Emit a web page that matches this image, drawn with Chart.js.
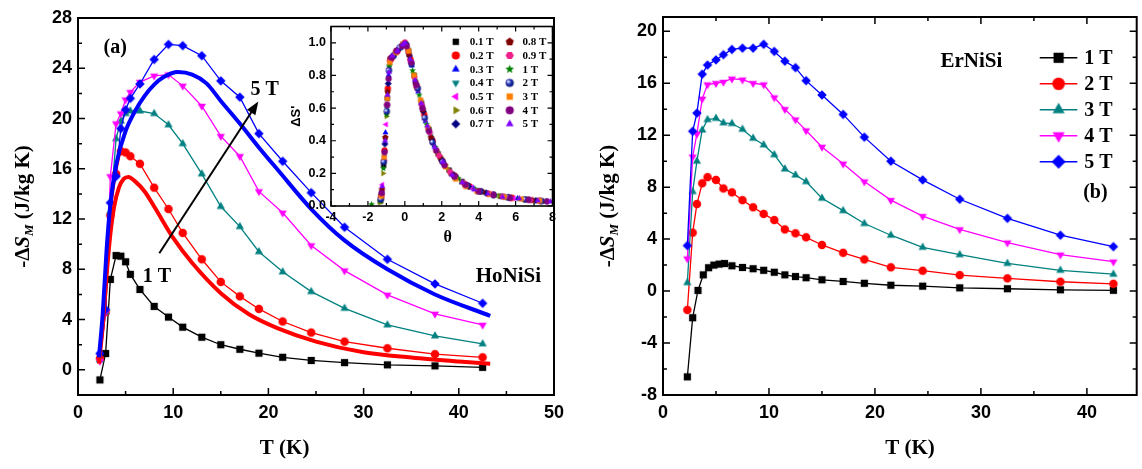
<!DOCTYPE html>
<html>
<head>
<meta charset="utf-8">
<script src="https://cdn.jsdelivr.net/npm/chart.js@4.4.1/dist/chart.umd.min.js"></script>
<style>
  html, body { margin: 0; padding: 0; background: #fff; }
  #wrap { position: relative; width: 1142px; height: 469px; overflow: hidden; }
  canvas { position: absolute; }
</style>
</head>
<body>
<div id="wrap">
  <canvas id="ho" width="580" height="469" style="left:0;top:0;width:580px;height:469px"></canvas>
  <canvas id="er" width="562" height="469" style="left:580px;top:0;width:562px;height:469px"></canvas>
  <canvas id="ins" width="275" height="236" style="left:285px;top:14px;width:275px;height:236px"></canvas>
</div>
<script>
// ---- panel (a) HoNiSi, -dS_M vs T ----
const hoT  = [2.3, 2.9, 3.4, 4.0, 4.5, 5.0, 5.5, 6.5, 8, 9.5, 11, 13, 15, 17, 19, 21.5, 24.5, 28, 32.5, 37.5, 42.5];
const ho1T = [-0.8, 1.3, 7.2, 9.1, 9.05, 8.6, 7.6, 6.4, 5.05, 4.2, 3.4, 2.6, 2.0, 1.64, 1.33, 1.0, 0.75, 0.58, 0.4, 0.32, 0.2];
const ho2T = [0.9, 4.6, 12.3, 15.6, 17.4, 17.3, 17.0, 16.4, 14.5, 12.8, 10.9, 8.8, 7.0, 5.85, 4.85, 3.85, 2.97, 2.25, 1.72, 1.25, 1.0];
const ho3T = [0.8, 4.6, 12.6, 18.4, 19.8, 20.4, 20.6, 20.6, 20.4, 19.5, 18.0, 15.6, 13.0, 11.4, 9.4, 7.8, 6.23, 4.9, 3.58, 2.7, 2.07];
const ho4T = [0.7, 4.6, 15.4, 19.6, 20.4, 21.5, 22.1, 22.9, 23.4, 23.5, 22.6, 21.0, 18.6, 17.0, 14.2, 12.5, 9.9, 7.9, 5.97, 4.46, 3.58];
const ho5T = [1.3, 4.8, 13.3, 15.4, 19.2, 20.7, 21.6, 22.75, 24.7, 25.9, 25.8, 25.0, 23.0, 21.7, 18.8, 16.6, 14.1, 11.35, 8.8, 6.84, 5.3];
// fitted curves (thick lines)
const fitRedT  = [2.2, 2.6, 3.0, 3.4, 3.8, 4.3, 4.8, 5.3, 6.0, 7.0, 8, 10, 12, 15, 18, 21, 25, 30, 35, 40, 43.3];
const fitRed   = [0.5, 3.5, 7.5, 10.8, 13.0, 14.5, 15.2, 15.35, 15.0, 14.2, 13.0, 10.5, 8.5, 6.1, 4.4, 3.3, 2.25, 1.4, 0.98, 0.66, 0.48];
const fitBlueT = [2.2, 2.6, 3.0, 3.4, 4.0, 5.0, 6.0, 7.0, 8.0, 9.0, 10.5, 12, 13.5, 15, 17, 19, 21, 24.5, 28, 32.5, 37.5, 43.3];
const fitBlue  = [1.0, 4.5, 9.5, 13.2, 16.3, 19.0, 20.6, 21.8, 22.7, 23.3, 23.7, 23.5, 22.8, 21.4, 19.6, 17.7, 15.9, 12.8, 10.3, 8.0, 6.0, 4.3];
const hoXTicks = [0, 10, 20, 30, 40, 50];
const hoYTicks = [0, 4, 8, 12, 16, 20, 24, 28];

// ---- panel (b) ErNiSi ----
const erT1 = [2.3, 2.8, 3.3, 3.8, 4.3, 4.8, 5.3, 5.8, 6.5, 7.5, 8.5, 9.5, 10.5, 11.5, 12.5, 13.5, 15, 17, 19, 21.5, 24.5, 28, 32.5, 37.5, 42.5];
const er1T = [-6.6, -2.05, 0.05, 1.25, 1.8, 2.0, 2.08, 2.12, 1.95, 1.82, 1.72, 1.6, 1.45, 1.25, 1.12, 1.03, 0.87, 0.74, 0.6, 0.45, 0.38, 0.25, 0.18, 0.1, 0.06];
const erT  = [2.3, 2.8, 3.2, 3.7, 4.2, 5.0, 5.7, 6.5, 7.5, 8.5, 9.5, 10.5, 11.5, 12.5, 13.5, 15, 17, 19, 21.5, 24.5, 28, 32.5, 37.5, 42.5];
const er2T = [-1.45, 4.5, 6.7, 8.3, 8.77, 8.56, 7.9, 7.6, 7.0, 6.45, 5.94, 5.47, 4.75, 4.45, 4.14, 3.55, 2.95, 2.44, 1.83, 1.57, 1.23, 0.98, 0.72, 0.56];
const er3T = [0.65, 7.66, 10.0, 12.4, 13.2, 13.3, 12.95, 12.9, 12.46, 11.77, 11.26, 10.5, 9.4, 8.94, 8.43, 7.15, 6.19, 5.2, 4.3, 3.37, 2.8, 2.13, 1.6, 1.3];
const er4T = [2.5, 10.35, 12.1, 14.8, 15.9, 16.0, 16.1, 16.35, 16.27, 16.0, 15.9, 14.9, 14.0, 13.2, 12.36, 11.1, 9.8, 8.43, 7.0, 5.77, 4.75, 3.73, 2.8, 2.26];
const er5T = [3.5, 12.3, 13.7, 16.7, 17.4, 17.8, 18.2, 18.6, 18.7, 18.7, 19.0, 18.45, 17.7, 17.2, 16.2, 15.1, 13.6, 11.85, 10.0, 8.56, 7.07, 5.6, 4.3, 3.42];
const erXTicks = [0, 10, 20, 30, 40];
const erYTicks = [-8, -4, 0, 4, 8, 12, 16, 20];
const erLabels = ['1 T', '2 T', '3 T', '4 T', '5 T'];

// ---- inset: normalised dS' vs theta ----
const th01 = [-1.32, -1.15, -0.95, -0.8, -0.45, -0.1, 0.2, 0.5, 0.9, 1.3, 1.8, 2.4, 3.1, 4.0, 5.2, 6.6];
const ds01 = [0.03, 0.25, 0.66, 0.9, 0.95, 0.99, 0.95, 0.8, 0.63, 0.47, 0.32, 0.22, 0.15, 0.09, 0.06, 0.04];
const th02 = [-1.28, -1.1, -0.92, -0.75, -0.4, 0, 0.3, 0.65, 1.05, 1.5, 2.0, 2.7, 3.5, 4.5, 5.8, 7.3];
const ds02 = [0.06, 0.34, 0.72, 0.9, 0.95, 1.0, 0.9, 0.73, 0.56, 0.4, 0.28, 0.185, 0.12, 0.076, 0.05, 0.032];
const th03 = [-1.25, -1.05, -0.88, -0.6, -0.25, 0.05, 0.38, 0.72, 1.12, 1.6, 2.15, 2.85, 3.7, 4.8, 6.1, 7.7];
const ds03 = [0.09, 0.45, 0.8, 0.92, 0.97, 0.99, 0.86, 0.7, 0.52, 0.37, 0.26, 0.17, 0.11, 0.07, 0.046, 0.028];
const th04 = [-1.3, -1.12, -0.97, -0.85, -0.5, -0.15, 0.15, 0.55, 0.95, 1.4, 1.95, 2.55, 3.3, 4.3, 5.5, 7.0];
const ds04 = [0.04, 0.3, 0.6, 0.85, 0.94, 0.98, 0.96, 0.77, 0.6, 0.43, 0.29, 0.2, 0.13, 0.085, 0.055, 0.035];
const th05 = [-1.22, -1.02, -0.86, -0.65, -0.3, 0.02, 0.33, 0.7, 1.1, 1.55, 2.1, 2.8, 3.6, 4.6, 5.9, 7.4];
const ds05 = [0.13, 0.5, 0.84, 0.92, 0.97, 1.0, 0.88, 0.71, 0.53, 0.38, 0.27, 0.175, 0.115, 0.075, 0.048, 0.03];
const th06 = [-1.35, -1.18, -1.0, -0.83, -0.55, -0.2, 0.12, 0.48, 0.85, 1.25, 1.75, 2.35, 3.05, 4.0, 5.1, 6.5];
const ds06 = [0.02, 0.2, 0.55, 0.87, 0.93, 0.98, 0.97, 0.81, 0.65, 0.48, 0.33, 0.225, 0.15, 0.09, 0.062, 0.04];
const th07 = [-1.27, -1.08, -0.9, -0.7, -0.35, -0.05, 0.25, 0.6, 1.0, 1.45, 2.0, 2.65, 3.45, 4.4, 5.6, 7.1];
const ds07 = [0.07, 0.38, 0.75, 0.91, 0.96, 0.99, 0.92, 0.75, 0.58, 0.41, 0.28, 0.19, 0.12, 0.08, 0.053, 0.034];
const th08 = [-1.24, -1.06, -0.93, -0.78, -0.42, -0.08, 0.22, 0.58, 0.98, 1.42, 1.9, 2.5, 3.25, 4.2, 5.4, 6.9];
const ds08 = [0.1, 0.42, 0.7, 0.9, 0.95, 0.99, 0.93, 0.76, 0.59, 0.42, 0.3, 0.2, 0.13, 0.088, 0.056, 0.036];
const th09 = [-1.29, -1.13, -0.96, -0.81, -0.48, -0.12, 0.18, 0.52, 0.92, 1.35, 1.85, 2.45, 3.2, 4.1, 5.3, 6.8];
const ds09 = [0.05, 0.28, 0.62, 0.89, 0.94, 0.985, 0.95, 0.79, 0.62, 0.45, 0.31, 0.21, 0.14, 0.09, 0.058, 0.037];
const th1 = [-1.8, -1.33, -1.16, -0.99, -0.84, -0.58, -0.22, 0.08, 0.42, 0.78, 1.18, 1.65, 2.2, 2.9, 3.8, 4.9, 6.2, 7.6];
const ds1 = [0.01, 0.03, 0.23, 0.56, 0.86, 0.93, 0.975, 0.99, 0.83, 0.68, 0.5, 0.36, 0.25, 0.17, 0.105, 0.066, 0.045, 0.028];
const th2 = [-1.3, -1.14, -0.98, -0.86, -0.62, -0.28, 0.06, 0.36, 0.7, 1.08, 1.5, 2.05, 2.7, 3.4, 4.1, 4.8, 5.6, 6.5, 7.4];
const ds2 = [0.04, 0.27, 0.58, 0.83, 0.92, 0.97, 0.99, 0.87, 0.72, 0.54, 0.39, 0.27, 0.18, 0.125, 0.09, 0.068, 0.053, 0.04, 0.03];
const th3 = [-1.28, -1.12, -0.95, -0.82, -0.5, -0.1, 0.2, 0.5, 0.85, 1.25, 1.7, 2.2, 2.75, 3.3, 3.9, 4.6, 5.4, 6.3, 7.3];
const ds3 = [0.06, 0.3, 0.66, 0.88, 0.94, 0.99, 0.95, 0.8, 0.65, 0.48, 0.34, 0.24, 0.165, 0.12, 0.09, 0.072, 0.055, 0.043, 0.032];
const th4 = [-1.26, -1.1, -0.96, -0.88, -0.72, -0.45, -0.15, 0.1, 0.35, 0.62, 0.95, 1.3, 1.7, 2.15, 2.7, 3.3, 4.0, 4.8, 5.7, 6.7, 7.7];
const ds4 = [0.08, 0.33, 0.62, 0.78, 0.91, 0.95, 0.98, 0.98, 0.88, 0.74, 0.6, 0.46, 0.34, 0.25, 0.18, 0.13, 0.09, 0.068, 0.05, 0.038, 0.028];
const th5 = [-1.23, -1.07, -0.94, -0.86, -0.68, -0.4, -0.1, 0.0, 0.28, 0.55, 0.88, 1.22, 1.62, 2.05, 2.55, 3.1, 3.75, 4.5, 5.3, 6.2, 7.2, 7.9];
const ds5 = [0.12, 0.4, 0.68, 0.82, 0.92, 0.95, 0.99, 1.0, 0.9, 0.77, 0.63, 0.49, 0.36, 0.27, 0.19, 0.145, 0.1, 0.075, 0.055, 0.045, 0.033, 0.027];
const insLabels = ['0.1 T', '0.2 T', '0.3 T', '0.4 T', '0.5 T', '0.6 T', '0.7 T', '0.8 T', '0.9 T', '1 T', '2 T', '3 T', '4 T', '5 T'];
const insXTicks = [-4, -2, 0, 2, 4, 6, 8];
const insYTicks = [0, 0.2, 0.4, 0.6, 0.8, 1.0];

Chart.defaults.font.family = '"Liberation Sans", Arial, sans-serif';
Chart.defaults.color = '#000';

const SERIF = '"Liberation Serif", "Times New Roman", serif';

// marker images
function marker(shape, color, s) {
  const n = Math.ceil(s) + 2;
  const c = document.createElement('canvas');
  c.width = c.height = n;
  const g = c.getContext('2d');
  const m = n / 2, r = s / 2;
  const poly = (k, start, rr) => {
    for (let i = 0; i < k; i++) {
      const a = (start + i * 360 / k) * Math.PI / 180;
      const px = m + rr * Math.cos(a), py = m + rr * Math.sin(a);
      i ? g.lineTo(px, py) : g.moveTo(px, py);
    }
    g.closePath();
  };
  g.fillStyle = color;
  g.beginPath();
  if (shape === 'square') g.rect(m - r * 0.85, m - r * 0.85, r * 1.7, r * 1.7);
  else if (shape === 'circle') g.arc(m, m, r * 0.9, 0, Math.PI * 2);
  else if (shape === 'diamond') poly(4, -90, r);
  else if (shape === 'up') poly(3, -90, r);
  else if (shape === 'down') poly(3, 90, r);
  else if (shape === 'left') poly(3, 180, r);
  else if (shape === 'right') poly(3, 0, r);
  else if (shape === 'pentagon') poly(5, -90, r * 0.95);
  else if (shape === 'hexagon') poly(6, 0, r * 0.92);
  else if (shape === 'star') {
    for (let i = 0; i < 10; i++) {
      const a = (-90 + i * 36) * Math.PI / 180, rr = i % 2 ? r * 0.45 : r;
      i ? g.lineTo(m + rr * Math.cos(a), m + rr * Math.sin(a)) : g.moveTo(m + rr * Math.cos(a), m + rr * Math.sin(a));
    }
    g.closePath();
  } else if (shape === 'sphere') {
    const gr = g.createRadialGradient(m - r * 0.35, m - r * 0.35, 0.5, m, m, r);
    gr.addColorStop(0, '#e8ecff');
    gr.addColorStop(0.45, color);
    gr.addColorStop(1, '#0a1460');
    g.fillStyle = gr;
    g.arc(m, m, r * 0.9, 0, Math.PI * 2);
  }
  g.fill();
  return c;
}

function pts(xs, ys) { return xs.map((x, i) => ({ x: x, y: ys[i] })); }

function series(label, xs, ys, color, shape, order) {
  return {
    label: label, data: pts(xs, ys), order: order,
    borderColor: color, backgroundColor: color, borderWidth: 1.3, tension: 0,
    pointStyle: marker(shape, color, shape === 'square' ? 8.5 : 9.5), pointRadius: 4,
    legendImg: marker(shape, color, shape === 'square' ? 12 : 14)
  };
}

function fit(xs, ys, color, order) {
  return {
    label: 'fit', data: pts(xs, ys), order: order, borderColor: color, borderWidth: 4,
    pointRadius: 0, cubicInterpolationMode: 'monotone'
  };
}

// frame + inward ticks
const frameTicks = {
  id: 'frameTicks',
  afterDraw(chart, args, o) {
    if (!o || !o.xMinor) return;
    const { ctx, chartArea: a } = chart;
    const sx = chart.scales.x, sy = chart.scales.y;
    const walk = (scale, step, major, fn) => {
      for (let i = Math.ceil(scale.min / step - 1e-9); i * step <= scale.max + 1e-9; i++) {
        const v = i * step;
        const big = Math.abs(v / major - Math.round(v / major)) < 1e-6;
        fn(scale.getPixelForValue(v), big ? o.len : o.minorLen);
      }
    };
    ctx.save();
    ctx.strokeStyle = '#000';
    ctx.lineWidth = o.lw;
    ctx.beginPath();
    walk(sx, o.xMinor, o.xMajor, (p, l) => {
      ctx.moveTo(p, a.bottom); ctx.lineTo(p, a.bottom - l);
      if (o.mirror) { ctx.moveTo(p, a.top); ctx.lineTo(p, a.top + l); }
    });
    walk(sy, o.yMinor, o.yMajor, (p, l) => {
      ctx.moveTo(a.left, p); ctx.lineTo(a.left + l, p);
      if (o.mirror) { ctx.moveTo(a.right, p); ctx.lineTo(a.right - l, p); }
    });
    ctx.stroke();
    ctx.lineWidth = o.frame;
    ctx.strokeRect(a.left, a.top, a.right - a.left, a.bottom - a.top);
    ctx.restore();
  }
};
Chart.register(frameTicks);

function text(ctx, s, x, y, font, align) {
  ctx.font = font;
  ctx.fillStyle = '#000';
  ctx.textAlign = align || 'center';
  ctx.textBaseline = 'middle';
  ctx.fillText(s, x, y);
}

function yTitle(ctx, cx, cy) {
  const parts = [
    ['-\u0394', 'bold 21px ' + SERIF, 0],
    ['S', 'italic bold 21px ' + SERIF, 0],
    ['M', 'italic bold 13px ' + SERIF, 6],
    [' (J/kg K)', 'bold 21px ' + SERIF, 0]
  ];
  ctx.save();
  ctx.translate(cx, cy);
  ctx.rotate(-Math.PI / 2);
  let w = 0;
  parts.forEach(p => { ctx.font = p[1]; w += ctx.measureText(p[0]).width; });
  let x = -w / 2;
  ctx.fillStyle = '#000';
  ctx.textAlign = 'left';
  ctx.textBaseline = 'middle';
  parts.forEach(p => { ctx.font = p[1]; ctx.fillText(p[0], x, p[2]); x += ctx.measureText(p[0]).width; });
  ctx.restore();
}

function axes(xmin, xmax, xt, ymin, ymax, yt, yWidth, xHeight, size, pad, fmt) {
  return {
    x: {
      type: 'linear', min: xmin, max: xmax,
      afterFit: s => { s.height = xHeight; },
      afterBuildTicks: s => { s.ticks = xt.map(v => ({ value: v })); },
      grid: { display: false, drawTicks: false }, border: { display: false },
      ticks: { font: { weight: 'bold', size: size }, padding: pad[0], maxRotation: 0, autoSkip: false }
    },
    y: {
      type: 'linear', min: ymin, max: ymax,
      afterFit: s => { s.width = yWidth; },
      afterBuildTicks: s => { s.ticks = yt.map(v => ({ value: v })); },
      grid: { display: false, drawTicks: false }, border: { display: false },
      ticks: { font: { weight: 'bold', size: size }, padding: pad[1], autoSkip: false, callback: fmt || (v => v) }
    }
  };
}

// ---------- chart (a) ----------
const hoSets = [
  fit(fitBlueT, fitBlue, '#0000ff', 0),
  fit(fitRedT, fitRed, '#ff0000', 1),
  series('5 T', hoT, ho5T, '#0000ff', 'diamond', 2),
  series('4 T', hoT, ho4T, '#ff00ff', 'down', 3),
  series('3 T', hoT, ho3T, '#008080', 'up', 4),
  series('2 T', hoT, ho2T, '#ff0000', 'circle', 5),
  series('1 T', hoT, ho1T, '#000000', 'square', 6)
];

new Chart(document.getElementById('ho'), {
  type: 'line',
  data: { datasets: hoSets },
  options: {
    responsive: false, animation: false,
    layout: { padding: { left: 0, right: 26, top: 18, bottom: 0 } },
    scales: axes(0, 50, hoXTicks, -2, 28, hoYTicks, 78, 74, 18, [7, 6]),
    plugins: {
      legend: { display: false }, tooltip: { enabled: false },
      frameTicks: { xMinor: 5, xMajor: 10, yMinor: 2, yMajor: 4, len: 7, minorLen: 4, lw: 1.5, frame: 2, mirror: false }
    }
  },
  plugins: [{
    id: 'hoNotes',
    afterDraw(c) {
      const { ctx, chartArea: a } = c, X = c.scales.x, Y = c.scales.y;
      const P = (x, y) => [X.getPixelForValue(x), Y.getPixelForValue(y)];
      // arrow 1 T -> 5 T
      const [x0, y0] = P(8.54, 9.28), [x1, y1] = P(18.94, 21.35);
      const ang = Math.atan2(y1 - y0, x1 - x0), hl = 13, hw = 5;
      ctx.save();
      ctx.strokeStyle = '#000'; ctx.fillStyle = '#000'; ctx.lineWidth = 2;
      ctx.beginPath(); ctx.moveTo(x0, y0);
      ctx.lineTo(x1 - hl * 0.8 * Math.cos(ang), y1 - hl * 0.8 * Math.sin(ang)); ctx.stroke();
      ctx.beginPath(); ctx.moveTo(x1, y1);
      ctx.lineTo(x1 - hl * Math.cos(ang) + hw * Math.sin(ang), y1 - hl * Math.sin(ang) - hw * Math.cos(ang));
      ctx.lineTo(x1 - hl * Math.cos(ang) - hw * Math.sin(ang), y1 - hl * Math.sin(ang) + hw * Math.cos(ang));
      ctx.closePath(); ctx.fill();
      ctx.restore();
      let p = P(8.3, 7.4); text(ctx, '1 T', p[0], p[1], 'bold 20px ' + SERIF);
      p = P(19.6, 22.3); text(ctx, '5 T', p[0], p[1], 'bold 20px ' + SERIF);
      p = P(3.9, 25.6); text(ctx, '(a)', p[0], p[1], 'bold 20px ' + SERIF);
      p = P(45.2, 7.4); text(ctx, 'HoNiSi', p[0], p[1], 'bold 21px ' + SERIF);
      text(ctx, 'T (K)', X.getPixelForValue(21.7), a.bottom + 54, 'bold 21px ' + SERIF);
      yTitle(ctx, a.left - 54, (a.top + a.bottom) / 2);
    }
  }]
});

// ---------- chart (b) ----------
const erSets = [
  series('5 T', erT, er5T, '#0000ff', 'diamond', 0),
  series('4 T', erT, er4T, '#ff00ff', 'down', 1),
  series('3 T', erT, er3T, '#008080', 'up', 2),
  series('2 T', erT, er2T, '#ff0000', 'circle', 3),
  series('1 T', erT1, er1T, '#000000', 'square', 4)
];

new Chart(document.getElementById('er'), {
  type: 'line',
  data: { datasets: erSets },
  options: {
    responsive: false, animation: false,
    layout: { padding: { left: 0, right: 3, top: 17, bottom: 0 } },
    scales: axes(0, 44.7, erXTicks, -8, 21.1, erYTicks, 83, 74, 18, [7, 6]),
    plugins: {
      legend: { display: false }, tooltip: { enabled: false },
      frameTicks: { xMinor: 5, xMajor: 10, yMinor: 2, yMajor: 4, len: 7, minorLen: 4, lw: 1.5, frame: 2, mirror: true }
    }
  },
  plugins: [{
    id: 'erNotes',
    afterDraw(c) {
      const { ctx, chartArea: a } = c, X = c.scales.x, Y = c.scales.y;
      const P = (x, y) => [X.getPixelForValue(x), Y.getPixelForValue(y)];
      let p = P(29.1, 17.66); text(ctx, 'ErNiSi', p[0], p[1], 'bold 21px ' + SERIF);
      p = P(40.8, 7.6); text(ctx, '(b)', p[0], p[1], 'bold 20px ' + SERIF);
      // legend: line + marker, rows from 1 T to 5 T
      erLabels.forEach((lab, i) => {
        const ds = c.data.datasets.find(d => d.label === lab);
        const yy = Y.getPixelForValue(17.96 - i * 2.0);
        const xa = X.getPixelForValue(35.55), xb = X.getPixelForValue(39.1), xm = X.getPixelForValue(37.33);
        ctx.save();
        ctx.strokeStyle = ds.borderColor; ctx.lineWidth = 1.5;
        ctx.beginPath(); ctx.moveTo(xa, yy); ctx.lineTo(xb, yy); ctx.stroke();
        ctx.drawImage(ds.legendImg, xm - ds.legendImg.width / 2, yy - ds.legendImg.height / 2);
        ctx.restore();
        text(ctx, lab, X.getPixelForValue(39.75), yy + 1, 'bold 20px ' + SERIF, 'left');
      });
      text(ctx, 'T (K)', X.getPixelForValue(23.3), a.bottom + 54, 'bold 21px ' + SERIF);
      yTitle(ctx, a.left - 54, (a.top + a.bottom) / 2);
    }
  }]
});

// ---------- inset ----------
const insDefs = [
  [th01, ds01, '#000000', 'square'],
  [th02, ds02, '#ff0000', 'circle'],
  [th03, ds03, '#0000ff', 'up'],
  [th04, ds04, '#008080', 'down'],
  [th05, ds05, '#ff00ff', 'left'],
  [th06, ds06, '#808000', 'right'],
  [th07, ds07, '#000080', 'diamond'],
  [th08, ds08, '#800000', 'pentagon'],
  [th09, ds09, '#f0208a', 'hexagon'],
  [th1, ds1, '#008000', 'star'],
  [th2, ds2, '#1c2fb8', 'sphere'],
  [th3, ds3, '#ff8000', 'square'],
  [th4, ds4, '#800080', 'circle'],
  [th5, ds5, '#8000ff', 'up']
];
const insSets = insDefs.map((d, i) => ({
  label: insLabels[i], data: pts(d[0], d[1]), order: insDefs.length - i,
  showLine: false, pointRadius: 3, backgroundColor: d[2], borderColor: d[2],
  pointStyle: marker(d[3], d[2], d[3] === 'square' ? 6 : 7),
  legendImg: marker(d[3], d[2], d[3] === 'square' ? 7.5 : 9)
}));

new Chart(document.getElementById('ins'), {
  type: 'scatter',
  data: { datasets: insSets },
  options: {
    responsive: false, animation: false,
    layout: { padding: { left: 0, right: 7, top: 4, bottom: 0 } },
    scales: axes(-4, 8, insXTicks, 0, 1.1, insYTicks, 46, 44, 12.5, [4, 5], v => v.toFixed(1)),
    plugins: {
      legend: { display: false }, tooltip: { enabled: false },
      frameTicks: { xMinor: 1, xMajor: 2, yMinor: 0.1, yMajor: 0.2, len: 5, minorLen: 3, lw: 1.2, frame: 1.6, mirror: true }
    }
  },
  plugins: [{
    id: 'insNotes',
    afterDraw(c) {
      const { ctx, chartArea: a } = c, X = c.scales.x, Y = c.scales.y;
      c.data.datasets.forEach((ds, i) => {
        const col = i < 7 ? 0 : 1, row = i % 7;
        const xm = X.getPixelForValue(col ? 5.68 : 2.76);
        const xt = X.getPixelForValue(col ? 6.38 : 3.52);
        const yy = a.top + 15.3 + row * 13.7;
        ctx.drawImage(ds.legendImg, xm - ds.legendImg.width / 2, yy - ds.legendImg.height / 2);
        text(ctx, ds.label, xt, yy + 0.5, 'bold 11px ' + SERIF, 'left');
      });
      text(ctx, '\u03b8', (a.left + a.right) / 2 + 6, a.bottom + 32, 'bold 16px ' + SERIF);
      ctx.save();
      ctx.translate(a.left - 35, (a.top + a.bottom) / 2);
      ctx.rotate(-Math.PI / 2);
      text(ctx, '\u0394S\'', 0, 0, 'bold 13px "Liberation Sans", Arial, sans-serif');
      ctx.restore();
    }
  }]
});
</script>
</body>
</html>
